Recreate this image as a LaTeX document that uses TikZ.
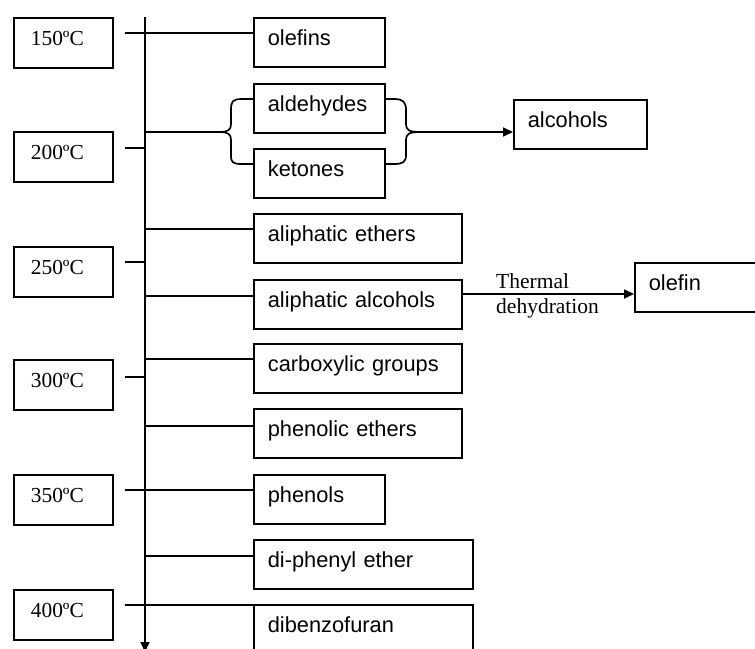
\documentclass[tikz,border=0pt]{standalone}
\usepackage{fontspec}
\setmainfont{Liberation Serif}
\newfontfamily\sansf{Liberation Sans}
\usetikzlibrary{arrows.meta}
\tikzset{
  ln/.style={line width=1.7pt},
  rbox/.style={draw, line width=1.7pt, anchor=north west, minimum height=49pt,
    inner xsep=14pt, inner ysep=0pt, text height=16pt, text depth=10pt,
    align=left, text width=#1, font=\sansf\fontsize{21.8pt}{24pt}\selectfont},
  tbox/.style={draw, line width=1.7pt, anchor=north west, minimum height=50pt,
    inner xsep=17pt, inner ysep=0pt, text height=16pt, text depth=10pt,
    align=left, text width=65pt, font=\fontsize{21.4pt}{24pt}\selectfont},
  lbl/.style={anchor=base west, inner sep=0pt, font=\fontsize{21.5pt}{24pt}\selectfont},
  arr/.style={ln, -{Triangle[length=10pt,width=9pt]}}
}
\begin{document}
\begin{tikzpicture}[x=1pt,y=-1pt]
\clip (0,0) rectangle (755,648);
\fill[white] (0,0) rectangle (755,648);
% temperature boxes
\node[tbox] (t150) at (13,17) {150ºC};
\node[tbox] (t200) at (13,131) {200ºC};
\node[tbox] (t250) at (13,246) {250ºC};
\node[tbox] (t300) at (13,359) {300ºC};
\node[tbox] (t350) at (13,474) {350ºC};
\node[tbox] (t400) at (13,589) {400ºC};
% product boxes
\node[rbox=103pt] (olefins) at (253,17) {olefins};
\node[rbox=103pt] (ald) at (253,83) {aldehydes};
\node[rbox=103pt] (ket) at (253,148) {ketones};
\node[rbox=180pt] (aeth) at (253,213) {aliphatic ethers};
\node[rbox=180pt] (aalc) at (253,279) {aliphatic alcohols};
\node[rbox=180pt] (carb) at (253,343) {carboxylic groups};
\node[rbox=180pt] (peth) at (253,408) {phenolic ethers};
\node[rbox=103pt] (phen) at (253,474) {phenols};
\node[rbox=191pt] (dpe) at (253,539) {di-phenyl ether};
\node[rbox=191pt] (dbf) at (253,604) {dibenzofuran};
\node[rbox=105pt] (alc) at (513,99) {alcohols};
\node[rbox=112pt] (olefin) at (634,262) {olefin};
% axis
\coordinate (axtop) at (145,17);
\coordinate (axbot) at (145,652);
\draw[arr] (axtop) -- (axbot);
% temperature ticks
\foreach \t/\dy in {t150/16,t200/17,t250/16,t300/18,t350/16,t400/16}{
  \coordinate (\t s) at ([xshift=11pt,yshift=-\dy pt]\t.north east);
  \draw[ln] (\t s) -- (\t s -| axtop);
}
\draw[ln] (t150s) -- (t150s -| olefins.west);
\draw[ln] (t350s) -- (t350s -| phen.west);
\draw[ln] (t400s) -- (t400s -| dbf.west);
% branches
\foreach \b/\dy in {aeth/16,aalc/17,carb/16,peth/18,dpe/17}{
  \coordinate (\b s) at ([yshift=-\dy pt]\b.north west);
  \draw[ln] (\b s -| axtop) -- (\b s);
}
% braces
\coordinate (lt) at ([yshift=-16pt]ald.north west);
\coordinate (lb) at ([yshift=-16pt]ket.north west);
\coordinate (ltip) at (219,132);
\draw[ln] (lt) -- (242,99) .. controls (232,99) and (231,102) .. (231,110) -- (231,124)
  .. controls (231,130) and (228,132) .. (ltip)
  .. controls (228,132) and (231,134) .. (231,140) -- (231,155)
  .. controls (231,162) and (232,164) .. (242,164) -- (lb);
\draw[ln] (ltip -| axtop) -- (ltip);
\coordinate (rt) at ([yshift=-16pt]ald.north east);
\coordinate (rb) at ([yshift=-16pt]ket.north east);
\coordinate (rtip) at (420,132);
\draw[ln] (rt) -- (394,99) .. controls (403,99) and (406,102) .. (406,110) -- (406,124)
  .. controls (406,130) and (409,132) .. (rtip)
  .. controls (409,132) and (406,134) .. (406,140) -- (406,155)
  .. controls (406,162) and (403,164) .. (394,164) -- (rb);
\draw[arr] (rtip) -- (rtip -| alc.west);
% thermal dehydration
\coordinate (ds) at ([yshift=-15pt]aalc.north east);
\draw[arr] (ds) -- (ds -| olefin.west);
\node[lbl] (thermal) at (496,288) {Thermal};
\node[lbl] (dehyd) at (496,313) {dehydration};
\end{tikzpicture}
\end{document}
